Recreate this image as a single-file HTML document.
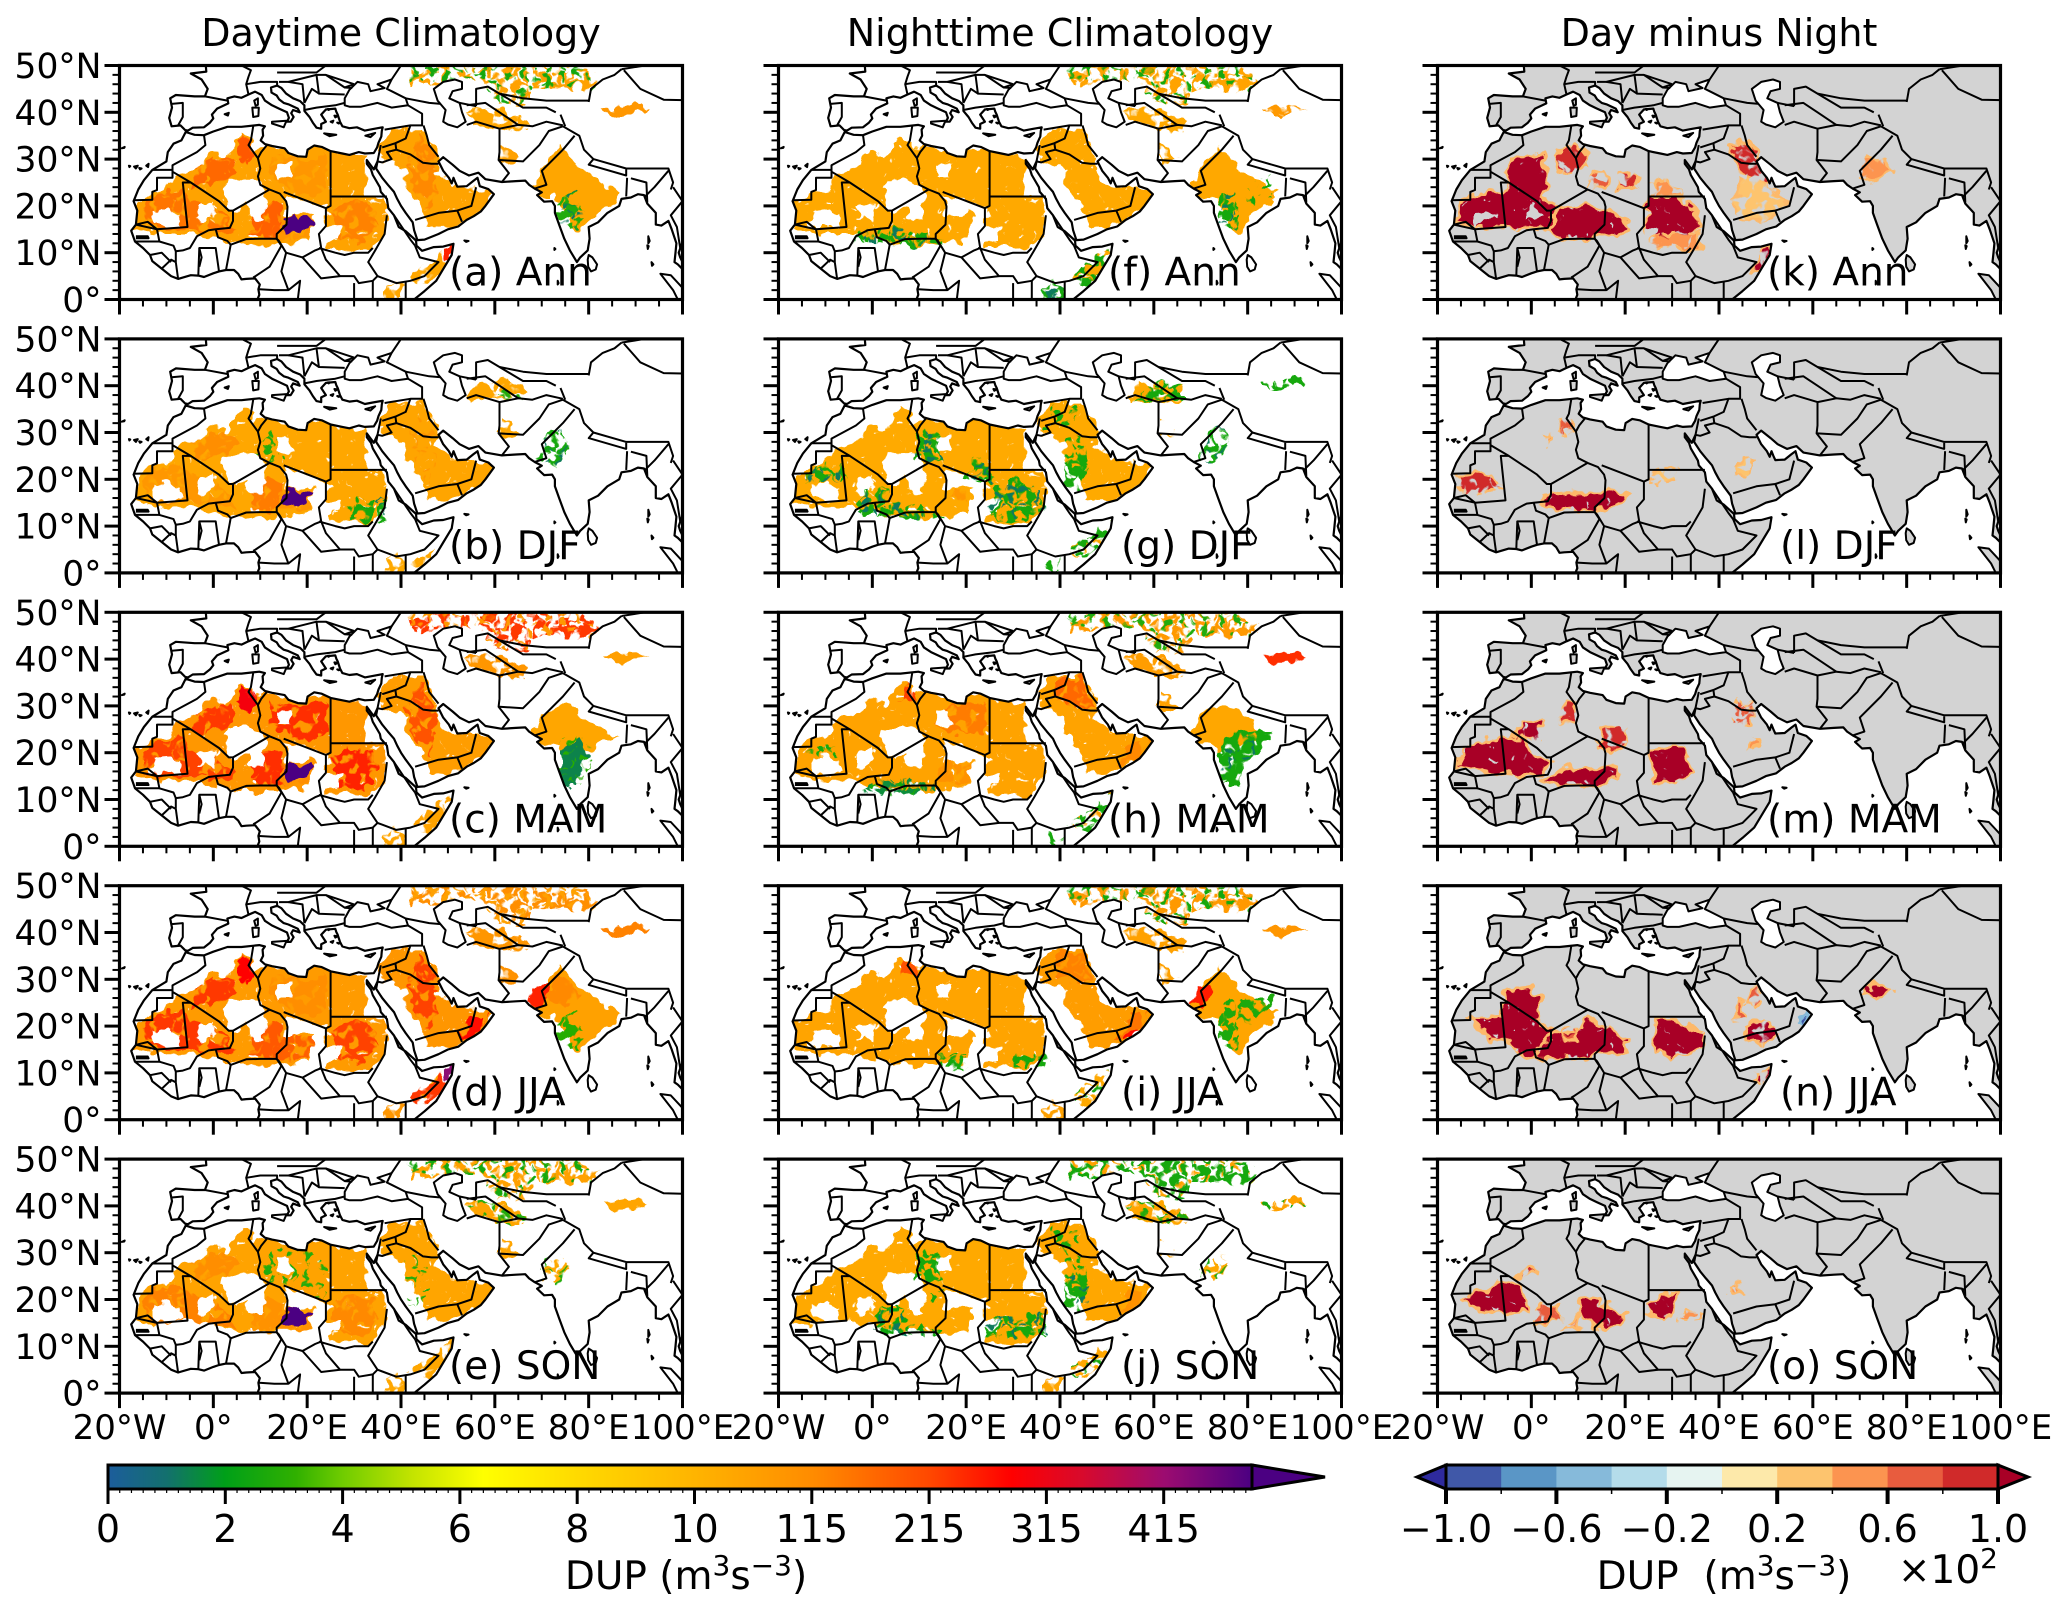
<!DOCTYPE html>
<html lang="en">
<head>
<meta charset="utf-8">
<title>DUP Climatology Maps</title>
<style>
html,body{margin:0;padding:0;background:#fff}
svg{display:block;font-family:"DejaVu Sans","Liberation Sans",sans-serif}
</style>
</head>
<body>
<svg id="chart" xmlns="http://www.w3.org/2000/svg" width="2067" height="1614" viewBox="0 0 2067 1614">
<rect width="2067" height="1614" fill="#fff"/>
<defs>
<filter id="rough1" filterUnits="userSpaceOnUse" x="-30" y="-30" width="630" height="300"><feTurbulence type="fractalNoise" baseFrequency="0.09" numOctaves="2" seed="3"/><feDisplacementMap in="SourceGraphic" scale="14" xChannelSelector="R" yChannelSelector="G"/></filter>
<filter id="rough2" filterUnits="userSpaceOnUse" x="-30" y="-30" width="630" height="300"><feTurbulence type="fractalNoise" baseFrequency="0.09" numOctaves="2" seed="11"/><feDisplacementMap in="SourceGraphic" scale="14" xChannelSelector="R" yChannelSelector="G"/></filter>
<filter id="rough3" filterUnits="userSpaceOnUse" x="-30" y="-30" width="630" height="300"><feTurbulence type="fractalNoise" baseFrequency="0.09" numOctaves="2" seed="23"/><feDisplacementMap in="SourceGraphic" scale="14" xChannelSelector="R" yChannelSelector="G"/></filter>
<filter id="tex-p" color-interpolation-filters="sRGB" filterUnits="userSpaceOnUse" x="-30" y="-30" width="630" height="300"><feTurbulence type="fractalNoise" baseFrequency="0.13" numOctaves="2" seed="5" result="n"/><feColorMatrix in="n" type="matrix" values="0 0 0 0 0 0 0 0 0 0 0 0 0 0 0 12 0 0 0 -5.5" result="a"/><feComposite in="SourceGraphic" in2="a" operator="in"/></filter>
<filter id="tex-q" color-interpolation-filters="sRGB" filterUnits="userSpaceOnUse" x="-30" y="-30" width="630" height="300"><feTurbulence type="fractalNoise" baseFrequency="0.13" numOctaves="2" seed="17" result="n"/><feColorMatrix in="n" type="matrix" values="0 0 0 0 0 0 0 0 0 0 0 0 0 0 0 12 0 0 0 -7" result="a"/><feComposite in="SourceGraphic" in2="a" operator="in"/></filter>
<filter id="tex-m" color-interpolation-filters="sRGB" filterUnits="userSpaceOnUse" x="-30" y="-30" width="630" height="300"><feTurbulence type="fractalNoise" baseFrequency="0.1" numOctaves="2" seed="9" result="n"/><feColorMatrix in="n" type="matrix" values="0 0 0 0 0 0 0 0 0 0 0 0 0 0 0 10 0 0 0 -3.6" result="a"/><feComposite in="SourceGraphic" in2="a" operator="in"/></filter>
<filter id="tex-h" color-interpolation-filters="sRGB" filterUnits="userSpaceOnUse" x="-30" y="-30" width="630" height="300"><feTurbulence type="fractalNoise" baseFrequency="0.15" numOctaves="2" seed="31" result="n"/><feColorMatrix in="n" type="matrix" values="0 0 0 0 0 0 0 0 0 0 0 0 0 0 0 14 0 0 0 -2.9" result="a"/><feComposite in="SourceGraphic" in2="a" operator="in"/></filter>
</defs>
</svg>
<script>
/* ---------- layout-free chart data (lon, lat pairs and field values) ---------- */
const columnTitles=["Daytime Climatology","Nighttime Climatology","Day minus Night"];
const panelLabels=["(a) Ann","(b) DJF","(c) MAM","(d) JJA","(e) SON","(f) Ann","(g) DJF","(h) MAM","(i) JJA","(j) SON","(k) Ann","(l) DJF","(m) MAM","(n) JJA","(o) SON"];
const latTicks=[0,10,20,30,40,50];
const latTickLabels=["0°","10°N","20°N","30°N","40°N","50°N"];
const lonTicks=[-20,0,20,40,60,80,100];
const lonTickLabels=["20°W","0°","20°E","40°E","60°E","80°E","100°E"];
const seqTickLabels=["0","2","4","6","8","10","115","215","315","415"];
const divTickLabels=["−1.0","−0.6","−0.2","0.2","0.6","1.0"];
const seqStops=[[0,"#1c5d9c"],[0.5,"#13706e"],[1,"#00a018"],[1.6,"#30b000"],[2,"#70cc00"],[2.6,"#c4e400"],[3.2,"#ffff00"],[4,"#ffda00"],[5,"#ffb400"],[6,"#ff8c00"],[7,"#ff4800"],[7.7,"#ff0000"],[8.3,"#d80a2c"],[9,"#9c0c70"],[9.75,"#4b0082"]];
const divColors=["#4058a8","#5a96c6","#86bada","#b4dcea","#e6f4f1","#fde9aa","#fdc46e","#fc9450","#e85c3e","#d02a2a"];
const divLow="#2e2a9e";
const divHigh="#a80026";

const landMain=[9.4,0,9.8,1,9.6,2.2,9.9,3.2,8.9,4.5,7,4.4,6,4.3,5.3,5.5,4.4,6.3,2.7,6.3,1.2,6,0,5.6,-2,4.8,-3.2,5.1,-4.8,5.2,-7.5,4.4,-9,5,-11,6.6,-13,8.2,-13.5,9.5,-15,11,-16.7,12.4,-17.5,14.7,-16.5,16,-16.2,19,-17,21,-16,23.5,-14.8,25.5,-13,27.7,-10,29.5,-9.7,31.5,-8.5,33.3,-6.8,34,-5.9,35.8,-4,35.2,-2,35.1,0,35.9,3,36.9,6,36.9,9.8,37.3,11,37,10.5,36.3,10.6,35,10.1,34,11,33.2,12.5,32.8,15.2,32.3,16,31.3,18,30.6,19.8,30.5,20.1,32,21.5,32.9,23.1,32.6,25,31.7,27.5,31.2,29,30.9,31,31.5,32.3,31.2,34.2,31.3,34.9,32.5,35.2,33.5,35.8,34.8,35.9,36,36.1,36.8,34,36.4,32.3,36.1,30.6,36.8,29,36.6,27.5,37,27,38,26.5,39.5,26.2,40.1,26,40.8,24,40.6,23,39.5,24,38,23,37.5,23,36.5,22,36.7,21.2,37.8,20.5,39,19.4,40.3,19.4,41.5,18.5,42.4,17,43,15.5,44,14.5,45.2,13.6,45.7,12.3,45.3,12.4,44.2,13.5,43.6,14,42.8,15,42,16,41.7,18,40.8,18.4,40,17,40.5,16.6,39.8,17.1,39,16.5,38,15.7,38,16.1,38.8,15.7,40,14,40.8,12.5,41.5,11,42.5,10.3,43.7,8.9,44.4,7.5,43.8,6,43.1,4.5,43.4,3,43,3.2,41.9,0.8,40.8,-0.3,39.5,0,38.7,-0.7,37.8,-2,36.8,-4.4,36.7,-5.4,36.1,-6,36.2,-7,37.2,-8.9,37,-9.4,38.8,-8.8,41,-9.2,43,-8,43.7,-4,43.4,-1.8,43.4,-1.2,45,-2.5,47,-4.8,48.3,-1.5,48.7,-1.6,50,100,50,100,13.4,99.9,12,99.2,10,99.5,9,100,8,100,6.5,99,7.5,98.3,8,98.5,10,98.7,12,97.7,15,97,16.8,95.5,15.8,94.3,16,94.3,18.5,92.5,20.5,91.8,22.3,90.5,22.5,89,21.8,87,21.5,86.5,20,84,18.5,82,16.5,80,15.5,80.2,13,79.8,10.5,78.2,9,77.5,8,76,10.5,74.8,13,73.7,16,72.8,18.5,72.8,20,72.2,21,70.5,20.9,69,22.3,70,22.9,68.5,23.7,67.3,24.5,66.5,25.4,64.5,25.3,61.5,25.1,58,25.7,56.5,27.1,54.5,26.5,52.5,27.5,51,28.8,49,30.4,48,29.5,49,27.5,50.2,26,50.8,24.8,51.2,26,51.6,25,52,24.1,54,24.2,55.5,25.4,56.3,26,56.8,24.2,58.6,23.6,59.8,22.5,58,20,57,18.8,55.5,17.8,54,17,52.2,15.6,50,15,48,14,45,12.8,43.5,12.7,42.8,14.8,42.5,16.5,41,18.5,40,20,39.2,21.5,38.5,23,37.2,24.5,36,26,34.7,28,35,29.5,34.2,27.8,32.7,29.8,32.7,29,33.6,27.8,34,26.6,35.5,24,35.7,23,37,21.5,37.3,19.5,38.5,18,39.5,15.5,41,14.6,43.2,12.6,43.3,11.5,44.5,10.4,47,11.2,49,11.3,51.2,11.9,50.8,9.5,49,6.5,47.5,4,45,1.8,42.8,0];
const seaBlack=[28,41.5,29,41.2,31.5,41.2,35,42,38,41,41.5,41.5,41,43,38,44.5,37,45,38,47,35,46,36.5,45.2,33.5,44.5,33,46,30.7,46.5,29,44.8,28,43];
const seaCaspian=[47,45,49,46.5,51.5,47,53,46.5,53,45,51,44.5,50.3,43,52.5,42,53,40,53.8,38,52,36.8,50,37.4,49,38,49.5,40.5,47.8,42.5];
const islands=[
[80,9.5,80.8,9,81.8,7.5,81.5,6.4,80.5,6,79.9,7,79.8,8.5],[12.5,38,15.6,38.2,15,36.8,12.5,37.6],[8.3,41,9.7,41,9.6,39.2,8.5,39],[8.7,42.5,9.5,43,9.5,41.6,9,41.4],
[23.6,35.5,26.2,35.2,24.8,34.9],[32.4,35,34.5,35.6,33.5,34.7],[2.4,39.6,3.3,39.9,3.1,39.3],[53.5,12.6,54.4,12.5,53.9,12.3],
[95.3,5.5,97.5,5.2,100,2.5,100,0,99,0,98,2],[-18,28.6,-17.7,28.5,-17.9,28.3],[-16.9,28.4,-16.1,28.6,-16.5,28],[-15.8,28.1,-15.3,28,-15.6,27.8],[-14.3,28.6,-13.8,29,-13.9,28.3],
[25,38,25.6,38.2,25.4,37.8],[25.8,39.3,26.5,39.2,26,38.9],[26.4,37.8,27,37.7,26.7,37.6],[24.4,40.7,24.8,40.7,24.6,40.5],
[92.7,13.5,93,12.5,92.7,12],[92.5,11.6,92.8,11.4,92.6,10.8],[93.4,8,93.8,7.5,93.5,7.2],[72.7,11,72.9,10.8,72.7,10.6],[73.4,4,73.6,3.5,73.4,3.2],[-19.5,32.3,-18.9,32.6,-19,32.4]
];
const borders=[
[-2,35.1,-1.7,33,-3.5,31.5,-8.7,28.7,-8.7,26,-12,26,-12,23.4,-13,23,-13,21.3,-17,21.2],[-13,27.7,-8.7,27.7],
[-8.7,27.3,-4.8,25,-6.5,25,-5.5,15.5,-12,15,-16.5,16],[-4.8,25,1.2,21,3.3,19,4.2,19,4.2,16.8,3.5,15.3,0.5,15,-1,14.8,-3.5,13.5,-5,11,-6.5,10.5,-8,10.3,-8.5,11.5,-11.5,12.4,-12,15],
[4.2,19,7.5,20.9,12,23.5,14.2,22.6,15.5,21,15.8,19.8,15.6,16,13.5,14,13.5,13,10,13,7,12.9,3.7,11.7,3,12.5,1,13.3,0.5,15],
[15,23,24,19.5,24,15.7,22.5,14,23,11,21.7,10.5,19,9,15.5,10,14,12.5,13.5,13],
[8.5,37,8,34,7.5,33,9.5,30.2,10,28,9.5,26.3,10,24.5,12,23.5],[9.5,30.2,10.2,31.5,11.5,33.1],
[25,31.7,25,20,24,19.5],[25,22,37,22],[22.5,11,26,10,28,9.5,30,10,33,10,34,11],
[37,18,36.5,14,34.5,10.5,33,8,35,5,34,4,31,3.5,30,5,27,5,24,8.5,23,11],[43,11.5,42,12.8,38.5,18],[43,11.5,44,9,48,8,45,5,42,4,39,3.5,35,5],[41,3.9,41,0],[34,4,34,0],[30,3.5,30,0],
[13.5,13,14.5,11.5,12,7,9,5,8.5,4.7],[2.7,6.3,3.7,11.7],[1.2,6,0.5,11,-3,11,-3.2,5.1],[-3,11,-2.5,9,-3,7],[-8,8,-7.5,4.4],[-8,8,-8,10.3],[-13.5,9.5,-11,10,-9,8],[-11,6.6,-9,8.5,-8,8],
[15.5,10,14.5,6,16,2,13,2,9.8,2.2],[19,9,23,4.5,27,5],[18,0,18.5,4,16,2],[-16.7,12.4,-12,12.4,-11.5,12.4],[-16.5,16,-14,16.6,-12,15],[-16.5,13.5,-14,13.5,-13.8,13.1,-16.5,13.1],
[-8.9,41.8,-6.5,42,-6.5,39,-7.5,37.2],[-1.8,43.4,3,42.5],[7.5,43.8,7,46,7.5,47.6,8,49,6,50],[7,46,10,46.5,13.6,46.5,13.6,45.7],[14,46.5,16,46.5,22,48,24,48,28,45.3,29.6,45.2],[22,48,22.5,44,28,43.8],[19.4,42,21,45,22.5,44],[16,46.5,19,46,19.4,42],[19.4,40.5,22,41,26,41.5,28,42],[13.6,48.5,17,48.5,22,48.5,24,50],[30,46,28,45.3],[24,48,30,46],[40,50,38,47],[41.5,41.5,44.5,39.7,44.5,37.2,42,37.2,36.5,36.3],
[41,43,46,42,48.5,41.8],[42,37.2,41,34.4,38.8,33.4,36,32.5],[38.8,33.4,39,32,37,31.5,38,30,36,29.3,35,29.5],[35.7,33,35,29.5],[39,32,42,31,44.7,29.2,46.5,29,48,29],[44.8,37.2,45.5,35,46,33,48,30.5],
[54,37.3,56,38,61,36.5,61,31.5,60.8,29.8,63,27,61.5,25.1],[61,29.8,66,29.5,69.5,33,71.5,36,74.5,37],[61,36.5,65,37.3,68,37,71,38,74.5,37.2],[56,41.3,56,45,58.5,45.5,61,44,66,41,68,41,71,41,73,40],[52.5,42,56,41.3],[61,44,66,43,71,42.5,80,42.5],
[54,41.5,58,42,61,40,65,37.3],[80,42.2,80.5,45,83,47,85.5,48,87,49.2],[87.5,49,91,45,96,42.7,100,42.6],[87,49.2,92,50],[74,39.5,75,37],[74.5,37,78,35,79,32,81,30,88,28,92,28,97,28,98,25,97.5,23.5],[81,30,80,28.8,88,26.5,88,27.8],[77,35,74.5,32,70,27.5,71,24.5,68.5,23.7],[88.2,26,88,22],[89,25.9,92.3,25,92.5,20.7],[92,22,94,24,97,27.5],[98,24,100,21],[100,21,97.5,18,98.8,15.5,99.5,11],
[52,19,55,20,56,24],[43,17,48,18.5,52,19,53,16.6]
];

/* shared field shapes */
const SW=[-17,15.5,-16,20.5,-13,23,-9,23.8,-8,26.5,-5,27.5,-2,29,-1,31.5,1.5,31,3,30,4.5,33,6,35.5,8.5,34,8,32,11,33,15,32,20,33,25,32,29,31,32.5,30.5,32.5,22,36,22,37,18,36.5,14,34,11,31,10.5,28,11,24,11,21,12.5,19,12.5,13,11.7,9,11.7,4,12,0,13,-5,14,-10,14,-14,14.5];
const AR=[35.5,30,35.5,33,38,36.5,45,36.5,48,30,47.5,27,50,25,51,24,56,24,59.8,22.5,58,19.5,55,17.5,52,16,48,15.8,45.6,16,45.6,17.5,44,20.7,41,24.3,41,27.9,36,29.5];
const IN=[67.6,24,70,28,74,33,76,30,80,27,84,24,87,23,85,21,81,18,78,14.2,76,15,74,21,72,22,69,22];
const IG=[73,18,74,22,77,23,79,18,78,15,75,15];
const TM=[53.3,40,56,38,60,36.5,66.5,35.8,66.8,38,62,40.5,58,41,54,41];
const CA=[42,50,42,45.5,47,46,53,47.5,58,46,60,42,67,41.5,68,45,75,45,81,44.5,82,47,78,50];
const TK=[82.7,40.5,85,39.2,89,39.2,92.5,40.8,90,41.6,85,41];
const SO=[41.9,4.5,44,7,47,8,48,9.5,50,10.5,51.2,11.7,50.5,9,49,6,46,3,44,3.5];
const SOS=[36.5,0,37,3,39,4,41,2,40.5,0];
const HORN=[49,8,50,11.5,51.2,11.8,50.5,8.5];
const AFG=[61,29.5,61,33,63,32,65,30,63,29];
const PURP=[15,14.5,15.5,17.5,17,18,18.5,17,20,18,21,17,20,15,17,14];
const HW=[-15,16,-15,20,-12,22.5,-7,23.5,-5,21,0,20,3,17,5,14,-5,15,-12,15];
const HAL=[-4,24,-4,28,0,30,4,30,5,27,2,25];
const HNI=[8,14,8,18,12,21,15,19,15,13,12,13];
const HSU=[26,13,25,19,29,21,34,20,35,16,32,12];
const HLI=[12,26,12,31,18,30,24,31,24,24,20,22,16,24];
const HTU=[5,31,6,35,8.5,33.5,9,30,7,28];
const HAR=[41,29,44,35,47,30,48,24,46,19,43,23];
const HOM=[52,17,55,22,59,22.5,56,18];
const H_T=[15.3,22.3,15.5,18,18,18,20,19,24,17,24.3,19.8];
const H_H=[2,24,3,25.5,9,25.5,10.5,24,11,23,9,21,7,20,4.5,18.5,3.5,19,3,21];
const H_1=[-12.8,15.7,-13,19,-10,19.3,-7.5,17.5,-6.5,15.7];
const H_2=[-3.4,17,-3,20.5,0.2,20.7,0.2,17.5];
const H_N=[7.6,17,7.5,21,11,23,11,17];
const H_C=[20.8,11,20.8,18,24,19,24.3,11];
const H_C2=[24,12.5,24,15.7,27,15.5,27,13];
const H_L=[13.7,26,13.7,29,16.5,29,17,26];
const H_S=[-14,14,-10,15.5,-5,15.5,0,14.5,5,13.3,10,13.3,15,13,20,13,24,13,24,10,-14,10];
const GB=[-4,13.5,0,15,5,15,10,14.5,15,13,15,11.5,8,11.5,2,12,-4,12.5];
const G_W=[-15,19.5,-12,23,-7,23,-5,20,-10,19.5];
const G_M=[-4,13,-2,18,3,18,5,13,2,12];
const G_S=[25,12,25,18,30,20,35,18,37,14,32,11];
const G_L=[9,24,10,31,14,30,15,24];
const G_C=[20,20,22,25,25,23,26,19];
const G_AR=[41,19,41,29,45,29,46,23,44,18];
const G_IP=[69,24,71,29,74,32,76,26,73,23];
const SAH=[[null,H_T],[null,H_H],[null,H_1],[null,H_2],[null,H_N],[null,H_C],[null,H_C2],[null,H_L]];

const dayAnn=[[55,SW,'h'],[150,HW,'m'],[170,HAL,'m'],[180,HNI,'m'],[130,HSU,'m'],[90,HLI,'m'],[190,HTU,'m'],...SAH,[90,[14,13,15,18,21,18,20.5,13],'m'],[515,PURP],[55,AR,'h'],[120,HAR,'m'],[48,IN],[2.8,IG,'p'],[1.2,IG,'q'],[45,TM,'m'],[60,CA,'p'],[2.5,CA,'q'],[60,AFG,'m'],[85,TK],[45,SO,'m'],[45,SOS,'m'],[250,HORN]];
const dayDjf=[[45,SW,'h'],[85,HW,'m'],[110,HAL,'m'],[140,HNI,'m'],[2.8,G_L,'q'],...SAH,[90,[14,13,15,18,21,18,20.5,13],'m'],[515,PURP],[2.6,[29,11,28,14,32,16,37,16,36,11],'p'],[1.2,[34,12,34,16,37,16,37,12],'q'],[50,AR,'h'],[90,HAR,'q'],[2.6,G_IP,'p'],[1.2,G_IP,'q'],[45,[54,37,56,40,62,42,67,39,60,37],'m'],[2.8,[60,38,64,40,66,37],'q'],[45,AFG,'m'],[40,SOS,'m'],[45,[42,1,45,2,47,5,44,3],'m']];
const dayMam=[[85,SW,'h'],[220,HW,'m'],[230,HAL,'m'],[240,HNI,'m'],[250,HSU,'m'],[240,HLI,'m'],[300,HTU,'m'],...SAH,[110,[14,13,15,18,21,18,20.5,13],'m'],[515,PURP],[70,AR,'h'],[200,HAR,'m'],[48,[67.6,24,70,28,74,30,76,30,80,27,84,24,87,23,82,22,78,20,74,21,72,22,69,22]],[1.4,[74,13,74,21,78,23,80,19,77,13]],[3,[73,14,72,22,79,24,81,18,78,13],'q'],[90,TM,'m'],[230,CA,'p'],[80,CA,'q'],[65,TK],[55,SO,'m'],[50,SOS,'m']];
const dayJja=[[75,SW,'h'],[230,HW,'m'],[230,HAL,'m'],[190,HNI,'m'],[220,HSU,'m'],[110,HLI,'m'],[280,HTU,'m'],...SAH,[180,[14,13,15,18,21,18,20.5,13],'m'],[90,AR,'h'],[220,HAR,'m'],[270,HOM,'m'],[60,IN],[3,IG,'p'],[250,[67,25,68,28,71,29,72,26,70,24]],[120,[71,26,73,31,78,27,75,24],'m'],[110,CA,'p'],[60,CA,'q'],[90,TM,'m'],[100,AFG,'m'],[130,TK],[60,[44,5,47,9,49,9.5,47,5.5]],[230,SO,'m'],[430,HORN],[90,SOS,'m']];
const dayNon=[[55,SW,'h'],[130,HW,'m'],[110,HAL,'m'],[100,HNI,'m'],[120,HSU,'m'],[2.8,[10,24,12,30,16,32,24,28,24,20],'q'],[null,H_S],...SAH,[100,[14,13,15,18,21,18,20.5,13],'m'],[515,[15,14.5,15.5,17.5,18,18.5,21,17,20,15,17,14]],[50,AR,'h'],[2.8,G_AR,'q'],[40,[70,24,71,27,74,30,76,26,73,24],'p'],[2.8,[68,24,71,29,76,28,76,24],'q'],[60,CA,'p'],[2.6,CA,'q'],[50,TM,'m'],[2.8,TM,'q'],[50,AFG,'m'],[50,TK],[45,SO,'m'],[45,SOS,'m']];

const nightAnn=[[40,SW,'h'],...SAH,[2.6,GB,'p'],[1.2,GB,'q'],[40,AR,'h'],[42,IN],[2.6,IG,'p'],[1.2,IG,'q'],[2.6,[78,20,80,25,85,26,86,22],'q'],[40,TM,'m'],[55,CA,'p'],[2.6,CA,'q'],[40,AFG,'m'],[80,TK,'m'],[40,SO,'m'],[2.6,SO,'p'],[2.6,SOS,'m'],[1.2,SOS,'q']];
const nightDjf=[[35,SW,'h'],...SAH,[2.6,G_W,'p'],[1.2,G_W,'q'],[2.8,G_M,'p'],[1.2,G_M,'q'],[2.6,GB,'p'],[1.2,GB,'q'],[2.6,G_S,'p'],[1.2,G_S,'q'],[2.6,G_L,'p'],[1.2,G_L,'q'],[2.6,G_C,'p'],[1.2,G_C,'q'],[90,[16,15,17,18,20,18,20,15],'m'],[35,AR,'h'],[2.6,G_AR,'p'],[2.6,[36,30,38,36,44,36,43,32],'q'],[2.6,G_IP,'p'],[1.2,G_IP,'q'],[40,[55,37,57,41,66,40,66,36],'m'],[2.6,[56,37,60,41,66,40,66,36],'p'],[2.6,TK,'p'],[40,AFG,'q'],[2.6,SO,'p'],[40,SO,'q'],[2.6,SOS,'q']];
const nightMam=[[55,SW,'h'],[140,[13,26,16,30,24,31,24,24,18,24],'m'],[220,[6,31,7,35,10,31],'m'],[100,[14,13,15,18,21,18,20.5,13],'m'],...SAH,[1.6,[-3,11,0,14,7,14.5,15,13,12,11],'p'],[2.6,[-3,11,0,14,7,14.5,15,13,12,11],'q'],[2.6,[-14,20,-8,23,-7,19],'p'],[55,AR,'h'],[120,HOM,'m'],[170,[38,32,40,36,45,36,47,30,43,29],'m'],[45,[67.6,24,70,28,74,30,76,30,80,27,84,24,81,22,78,22,74,21,72,22,69,22]],[2.6,[74,13,74,21,78,25,86,25,83,21,79,17,78,13],'m'],[1.2,[74,14,75,21,80,24,83,22,78,16],'q'],[70,TM,'m'],[80,CA,'p'],[2.8,CA,'q'],[60,AFG,'m'],[240,TK],[2.6,SO,'p'],[60,SO,'q'],[2.6,SOS,'q']];
const nightJja=[[52,SW,'h'],[200,[6,31,7,35,10,31]],...SAH,[2.6,[14,11,14,14,20,14,20,11],'p'],[2.6,[30,11,30,14,37,14,37,11],'p'],[70,AR,'h'],[150,HOM,'m'],[270,[54,17.5,55,19,57,19,56,18]],[130,[38,32,40,36,45,36,47,30,43,29],'m'],[50,IN],[2.7,IG,'p'],[2.7,[74,20,76,26,86,26,84,22],'p'],[260,[68,25,69,28,72,29,72,26,70,24]],[80,CA,'p'],[2.6,CA,'q'],[60,TM,'m'],[60,AFG,'m'],[90,TK],[40,SO,'p'],[2.6,SO,'q'],[60,SOS,'m']];
const nightSon=[[40,SW,'h'],[null,H_S],...SAH,[2.4,[0,13,1,18,5,19,8,15,15,14,15,12,5,12.5],'p'],[1.2,[0,13,1,18,5,19,8,15,15,14,15,12,5,12.5],'q'],[2.6,[24,12,25,16,37,17,37,12],'p'],[1.2,[24,12,25,16,37,17,37,12],'q'],[2.6,G_L,'p'],[2.6,[12,18,12,24,15,22],'q'],[45,AR,'h'],[2.6,G_AR,'p'],[1.2,[42,19,42,26,46,25,46,19],'q'],[2.6,[37,30,38,36,44,34,45,30],'q'],[100,HOM,'m'],[45,[70,24,71,27,74,30,76,26,73,24],'p'],[2.6,[68,24,71,29,76,28,76,24],'q'],[60,CA,'q'],[2.6,CA,'p'],[50,TM,'m'],[2.8,TM,'q'],[50,AFG,'q'],[60,TK,'p'],[2.6,TK,'q'],[45,SO,'p'],[2.6,SO,'q'],[50,SOS,'m']];

const D_W=[-16,16.5,-15,21,-9,23.5,-5,23,-5,26,-4,30,3,31,3,26,4,24,2,22,5,20,4,15,-2,15,-8,15.5];
const D_C=[4,15,6,20,9,20,12,21,15,19,20,18,21,15,18,13.5,12,13,6,13];
const D_T=[5,27,6,32,9,33,12,31,11,28];
const D_L1=[12,23.5,12.5,27.5,16,27,16,24];
const D_L2=[18.6,23.5,19,27,22.7,26.5,22.5,24];
const D_E=[25,22,27,26,31,24,32,22];
const D_S=[24.3,15,25,22,31,22,35,19,35.7,15,31,12,26,13];
const D_A=[45,27,42,33,46,34,49,30,53,26,50,24];
const D_AO=[43,20,45,27,50,24,55,21,50,17,45,17];
const D_I=[70,26,71,30,76,30,76.5,27,72,25];
const D_H=[47,5.5,48,8,50,11.5,51,11,50,7];
const diffAnn=[[100,D_W,'h'],[100,D_C,'h'],[null,[-12,15.7,-12,19,-8,18]],[null,[-1,17,0,20,3,18]],[90,D_T,'m'],[70,D_L1,'m'],[90,D_L2,'m'],[50,D_E,'m'],[100,D_S,'h'],[null,[24.5,12.5,24.5,16,27,15]],[40,[25,11,26,14,36,14,36,11],'m'],[35,D_AO,'m'],[90,D_A,'m'],[45,D_I,'m'],[100,D_H,'m']];
const diffDjf=[[95,[-15.5,17.5,-15,21,-9,21.5,-6,18.5,-11,17],'m'],[100,[2,14.5,3,16.5,7,17,12,17,18,18,20.5,16.5,18,14.2,12,13.5,6,13.5],'h'],[60,[6,30,6,32,8,33,9,30],'p'],[50,[3,27,3,29,5,29],'p'],[35,[25.5,19,26,22,32,22,31,20],'p'],[35,[43,21,45,25,48,24,46,20],'p']];
const diffMam=[[100,[-16,17,-14,21,-8,23,-2,23,1,19,4,18,2,15,-6,15.5],'h'],[100,[2,14,8,17,12,16,15,17,19,17,18,14.5,14,13,8,13],'h'],[100,[-4,23,-2,27,2,27,2,23],'m'],[100,[26,13.5,25,21,33,21,34,16,31,13],'h'],[90,[6,26,7,31,10,31,9,27],'m'],[80,[14,20,15,25,20,25,20,21],'m'],[60,[42,26,44,32,47,30,47,26],'p'],[40,[46,20,47,23,49,22],'p']];
const diffJja=[[100,[-13.2,21.8,-6.3,22.2,-6.3,24.7,-4.7,27.9,-0.2,28.3,1.9,26.1,1.5,21.4,4.3,18.9,4.3,15.7,0.6,13.2,-2.6,14.2,-5.5,17.1,-9.2,17.1,-11.6,20],'h'],[100,[4.3,18.6,9.6,18.6,12,22.2,15.3,20,20.6,17.5,20.2,14.2,14.5,13.9,10.4,13.2,0.6,13.2],'h'],[60,[7.2,17,7.2,20,9.6,20,9.6,17],'m'],[100,[26,14.5,26.5,22,31,21,37,18,36,15,30,12.8,28,15],'h'],[100,[45.5,17,46,20,49,21,52.8,19,50,16.4],'m'],[70,[43.5,20.7,44,25.8,45.2,25.5,45,21],'m'],[60,[46,25,48,29,49.5,27,48,24],'m'],[100,[71.2,27,73,29.7,76.5,27.5,75,26],'m'],[100,[47,8,48,9.5,51,10.6,50,7.8],'m'],[-90,[57,21,58.5,22.5,59,20.4]]];
const diffSon=[[100,[-15,19.8,-11,22,-6,23.5,-3,23,-1,20,-1,17.5,-6,17,-11,17.5],'h'],[90,[-3.5,25,0,27,1.5,25.5],'m'],[75,[0.2,14.7,1.5,18.5,6,19,6,15],'m'],[100,[10,19,11.5,21,15,19,20,17,19,14.5,14,14,11,16],'h'],[50,[7,13.5,10,17,10,14],'m'],[100,[24.5,19,28,21,31.5,21.5,30,17,28,15.5,25,17],'h'],[55,[31,15,33,18,37,17,35,15],'p'],[40,[42,22,44,24,45,21],'p']];

const fieldsByColumn=[[dayAnn,dayDjf,dayMam,dayJja,dayNon],[nightAnn,nightDjf,nightMam,nightJja,nightSon],[diffAnn,diffDjf,diffMam,diffJja,diffSon]];

/* ---------- geometry and scales ---------- */
const NS='http://www.w3.org/2000/svg';
const svg=document.getElementById('chart');
const colLeft=[119.5,778.5,1437.5];
const rowTop=[65.5,338.9,612.3,885.7,1159.1];
const PW=563, PH=234;
const lonX=lon=>(lon+20)/120*PW;
const latY=lat=>PH-lat/50*PH;
const tickPos=v=>v<=10?v/2:v<115?5+(v-10)/105:6+(v-115)/100;
function mixHex(a,b,t){const p=s=>[1,3,5].map(i=>parseInt(s.substr(i,2),16));const A=p(a),B=p(b);return 'rgb('+A.map((c,i)=>Math.round(c+(B[i]-c)*t)).join(',')+')';}
function seqColor(v){const p=tickPos(v);for(let i=1;i<seqStops.length;i++){if(p<=seqStops[i][0]){const t=(p-seqStops[i-1][0])/(seqStops[i][0]-seqStops[i-1][0]);return mixHex(seqStops[i-1][1],seqStops[i][1],Math.max(0,t));}}return seqStops[seqStops.length-1][1];}
function divColor(v){if(v>=100)return divHigh;if(v<=-100)return divLow;const i=Math.min(9,Math.floor((v+100)/20));return divColors[i];}
function mk(tag,attrs,parent){const e=document.createElementNS(NS,tag);for(const k in attrs)e.setAttribute(k,attrs[k]);(parent||svg).appendChild(e);return e;}
function ptsOf(a){let s='';for(let i=0;i<a.length;i+=2)s+=lonX(a[i]).toFixed(1)+','+latY(a[i+1]).toFixed(1)+' ';return s;}

const defs=svg.querySelector('defs');
const clipLand=mk('clipPath',{id:'land-clip'},defs);
mk('polygon',{points:ptsOf(landMain)},clipLand);
const clipRect=mk('clipPath',{id:'rect-clip'},defs);
mk('rect',{x:0,y:0,width:PW,height:PH},clipRect);

/* ---------- panels ---------- */
columnTitles.forEach((t,c)=>{
  const title=mk('text',{x:colLeft[c]+281.5,y:46,'text-anchor':'middle','font-size':38,fill:'#000'});
  title.textContent=t;
  
  
});
const labelOffset=[449,449,449,449,449,449,462,449,462,462,449,462,449,462,449];
for(let c=0;c<3;c++){
  for(let r=0;r<5;r++){
    const idx=c*5+r;
    const g=mk('g',{transform:`translate(${colLeft[c]},${rowTop[r]})`});
    
    
    const bg=mk('rect',{x:0,y:0,width:PW,height:PH,fill:'#fff'},g);
    
    
    const inner=mk('g',{'clip-path':'url(#rect-clip)'},g);
    const bgLand=c==2?'#d3d3d3':'#fff';
    const land=mk('polygon',{points:ptsOf(landMain),fill:bgLand},inner);
    
    
    const clipG=mk('g',{'clip-path':'url(#land-clip)'},inner);
    const field=mk('g',{filter:`url(#rough${(idx%3)+1})`},clipG);
    
    
    fieldsByColumn[c][r].forEach(([v,shape,tex])=>{
      const holeFill=bgLand;
      const fill=v===null?holeFill:(c==2?divColor(v):seqColor(v));
      const attrs={points:ptsOf(shape),fill:fill};
      if(c==2&&v!==null){attrs.stroke=v<0?'#86bada':'#fdb96a';attrs['stroke-width']=3;attrs['stroke-linejoin']='round';}
      if(tex)attrs.filter=`url(#tex-${tex})`;
      const cell=mk('polygon',attrs,field);
      
      
    });
    [seaBlack,seaCaspian].forEach(s=>{
      const sea=mk('polygon',{points:ptsOf(s),fill:'#fff',stroke:'#000','stroke-width':2,'stroke-linejoin':'round'},inner);
      
      
    });
    islands.forEach(s=>{
      const isl=mk('polygon',{points:ptsOf(s),fill:bgLand,stroke:'#000','stroke-width':2,'stroke-linejoin':'round'},inner);
      
      
    });
    const coast=mk('polygon',{points:ptsOf(landMain),fill:'none',stroke:'#000','stroke-width':2.2,'stroke-linejoin':'round'},inner);
    
    
    borders.forEach(b=>{
      const line=mk('polyline',{points:ptsOf(b),fill:'none',stroke:'#000','stroke-width':2,'stroke-linejoin':'round'},inner);
      
      
    });
    const frame=mk('rect',{x:0,y:0,width:PW,height:PH,fill:'none',stroke:'#000','stroke-width':3.2},g);
    
    
    for(let lat=0;lat<=50;lat+=2){
      const major=lat%10===0;
      const t=mk('line',{x1:0,x2:major?-15:-7,y1:latY(lat),y2:latY(lat),stroke:'#000','stroke-width':major?3:2},g);
      
      
    }
    for(let lon=-20;lon<=100;lon+=5){
      const major=lon%20===0;
      const t=mk('line',{y1:PH,y2:PH+(major?15:7),x1:lonX(lon),x2:lonX(lon),stroke:'#000','stroke-width':major?3:2},g);
      
      
    }
    if(c===0){
      latTicks.forEach((lat,i)=>{
        const t=mk('text',{x:-18,y:latY(lat)+12.5,'text-anchor':'end','font-size':34.5,fill:'#000'},g);
        t.textContent=latTickLabels[i];
        
        
      });
    }
    if(r===4){
      lonTicks.forEach((lon,i)=>{
        const t=mk('text',{x:lonX(lon),y:PH+46,'text-anchor':'middle','font-size':34,fill:'#000'},g);
        t.textContent=lonTickLabels[i];
        
        
      });
    }
    const lab=mk('text',{x:labelOffset[idx]-119.5,y:PH-14,'font-size':39,fill:'#000'},g);
    lab.textContent=panelLabels[idx];
    
    
  }
}

/* ---------- sequential colorbar ---------- */
const seqX0=108, seqDx=117.3, barY=1465, barH=24, seqEnd=1252, seqTip=1325;
const seqX=i=>seqX0+i*seqDx;
const grad=mk('linearGradient',{id:'seq-grad',x1:0,x2:1,y1:0,y2:0},defs);
seqStops.forEach(([p,col])=>{mk('stop',{offset:p/9.75,'stop-color':col},grad);});
const seqTri=mk('polygon',{points:`${seqEnd},${barY} ${seqTip},${barY+barH/2} ${seqEnd},${barY+barH}`,fill:'#4b0082',stroke:'#000','stroke-width':3,'stroke-linejoin':'miter'});


const seqBar=mk('rect',{x:seqX0,y:barY,width:seqEnd-seqX0,height:barH,fill:'url(#seq-grad)',stroke:'#000','stroke-width':3});


for(let i=0;i<=9.75*10;i++){
  const major=i%10===0;
  const t=mk('line',{x1:seqX(i/10),x2:seqX(i/10),y1:barY+barH,y2:barY+barH+(major?15:4),stroke:'#000','stroke-width':major?3:1.2});
  
  
}
seqTickLabels.forEach((s,i)=>{
  const t=mk('text',{x:seqX(i),y:1542,'text-anchor':'middle','font-size':38,fill:'#000'});
  t.textContent=s;
  
  
});
const unit='<tspan dy="-14" font-size="28">3</tspan><tspan dy="14">s</tspan><tspan dy="-14" font-size="28">−3</tspan><tspan dy="14">)</tspan>';
const seqTitle=mk('text',{x:686,y:1589,'text-anchor':'middle','font-size':39,fill:'#000'});
seqTitle.innerHTML='DUP (m'+unit;



/* ---------- diverging colorbar ---------- */
const divX0=1446, divDx=55.2, divTipL=1417, divTipR=2028;
const divX=i=>divX0+i*divDx;
const triL=mk('polygon',{points:`${divX0},${barY} ${divTipL},${barY+barH/2} ${divX0},${barY+barH}`,fill:divLow,stroke:'#000','stroke-width':3});


const triR=mk('polygon',{points:`${divX(10)},${barY} ${divTipR},${barY+barH/2} ${divX(10)},${barY+barH}`,fill:divHigh,stroke:'#000','stroke-width':3});


divColors.forEach((col,i)=>{
  const s=mk('rect',{x:divX(i),y:barY,width:divDx+0.5,height:barH,fill:col});
  
  
});
const divFrame=mk('rect',{x:divX0,y:barY,width:divDx*10,height:barH,fill:'none',stroke:'#000','stroke-width':3});


for(let i=0;i<=10;i++){
  const major=i%2===0;
  const t=mk('line',{x1:divX(i),x2:divX(i),y1:barY+barH,y2:barY+barH+(major?15:5),stroke:'#000','stroke-width':major?4:1.5});
  
  
}
divTickLabels.forEach((s,i)=>{
  const t=mk('text',{x:divX(i*2),y:1542,'text-anchor':'middle','font-size':38,fill:'#000'});
  t.textContent=s;
  
  
});
const divTitle=mk('text',{x:1724,y:1589,'text-anchor':'middle','font-size':39,fill:'#000'});
divTitle.innerHTML='DUP&#160;&#160;(m'+unit;


const mult=mk('text',{x:1998,y:1583,'text-anchor':'end','font-size':39,fill:'#000'});
mult.innerHTML='×10<tspan dy="-15" font-size="28">2</tspan>';


</script>
</body>
</html>
